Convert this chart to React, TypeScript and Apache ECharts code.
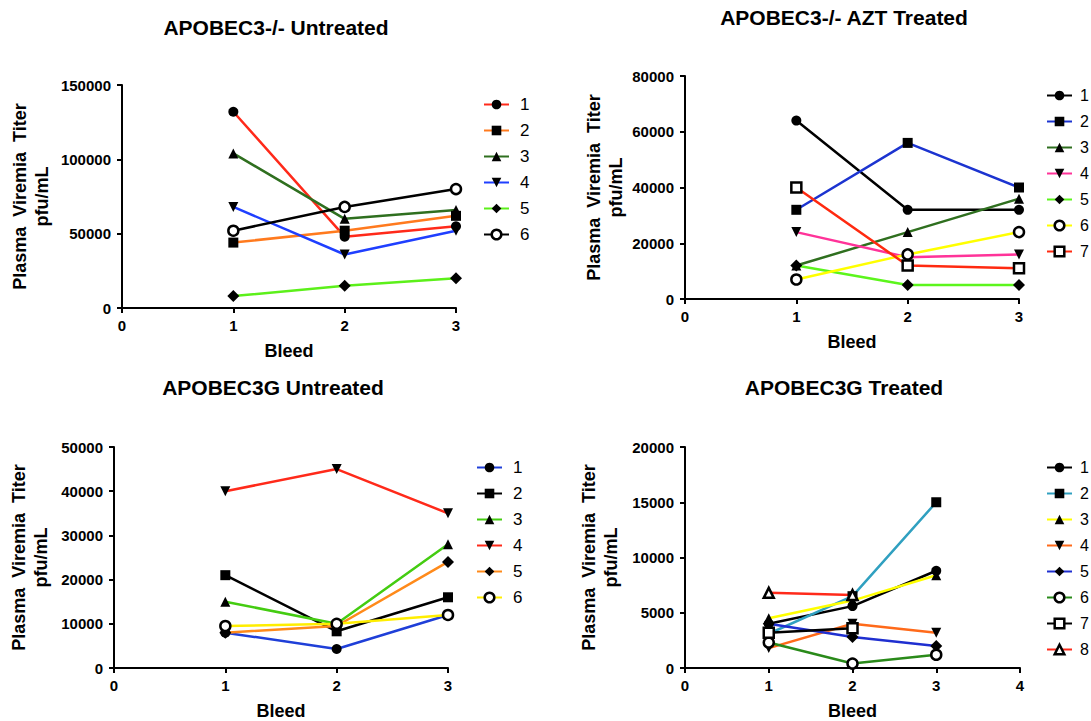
import React, { useEffect, useRef } from "react";
import * as echarts from "echarts";

const bleeds = [1, 2, 3];

// Panel 1: APOBEC3-/- Untreated
const p1Names = ["1", "2", "3", "4", "5", "6"];
const p1Values = [
  [132000, 48000, 55000],
  [44000, 52000, 62000],
  [104000, 60000, 66000],
  [68000, 36000, 52000],
  [8000, 15000, 20000],
  [52000, 68000, 80000],
];
const p1Colors = ["#ff2a1a", "#ff7a1e", "#2f6f1f", "#1f3fff", "#5cf01a", "#000000"];
const p1Symbols = ["circle", "rect", "triangle", "triangleDown", "diamond", "emptyCircle"];

// Panel 2: APOBEC3-/- AZT Treated
const p2Names = ["1", "2", "3", "4", "5", "6", "7"];
const p2Values = [
  [64000, 32000, 32000],
  [32000, 56000, 40000],
  [12000, 24000, 36000],
  [24000, 15000, 16000],
  [12000, 5000, 5000],
  [7000, 16000, 24000],
  [40000, 12000, 11000],
];
const p2Colors = ["#000000", "#1c34d0", "#2f6f1f", "#ff3399", "#5cf51c", "#ffff00", "#ff2a10"];
const p2Symbols = ["circle", "rect", "triangle", "triangleDown", "diamond", "emptyCircle", "emptyRect"];

// Panel 3: APOBEC3G Untreated
const p3Names = ["1", "2", "3", "4", "5", "6"];
const p3Values = [
  [8000, 4300, 12000],
  [21000, 8300, 16000],
  [15000, 10000, 28000],
  [40000, 45000, 35000],
  [8000, 9500, 24000],
  [9500, 10000, 12000],
];
const p3Colors = ["#1f3fd8", "#000000", "#44cc11", "#ff2a1a", "#ff8a1a", "#ffee00"];
const p3Symbols = ["circle", "rect", "triangle", "triangleDown", "diamond", "emptyCircle"];

// Panel 4: APOBEC3G Treated
const p4Names = ["1", "2", "3", "4", "5", "6", "7", "8"];
const p4Values = [
  [4000, 5600, 8800],
  [3100, 6500, 15000],
  [4500, 6100, 8400],
  [1800, 4000, 3200],
  [4000, 2800, 2000],
  [2300, 400, 1200],
  [3200, 3600],
  [6800, 6600],
];
const p4Colors = ["#000000", "#30a0c0", "#ffff00", "#ff6a1a", "#1f2fd0", "#2a8a1a", "#000000", "#ff2a1a"];
const p4Symbols = ["circle", "rect", "triangle", "triangleDown", "diamond", "emptyCircle", "emptyRect", "emptyTriangle"];

const titles = ["APOBEC3-/- Untreated", "APOBEC3-/- AZT Treated", "APOBEC3G Untreated", "APOBEC3G Treated"];
const yMax = [150000, 80000, 50000, 20000];
const yStep = [50000, 20000, 10000, 5000];
const xMax = [3, 3, 3, 4];

const FONT = "Liberation Sans, Arial, sans-serif";

export default function App() {
  const ref = useRef<HTMLDivElement>(null);
  useEffect(() => {
    if (!ref.current) return;
    const chart = echarts.init(ref.current, null, { renderer: "svg" });

    const grids = [
      { left: 122, top: 85, width: 334, height: 223 },
      { left: 685, top: 76, width: 334, height: 223 },
      { left: 114, top: 447, width: 334, height: 223 },
      { left: 685, top: 447, width: 335, height: 223 },
    ];
    const yNameGap = [69, 58, 62, 63];
    const titlePos = [
      { x: 276, y: 17 },
      { x: 844, y: 7 },
      { x: 273, y: 377 },
      { x: 844, y: 377 },
    ];
    const legendPos = [
      { left: 478, top: 91, font: 17 },
      { left: 1041, top: 82, font: 16 },
      { left: 471, top: 454, font: 17 },
      { left: 1041, top: 454, font: 16 },
    ];

    const panels = [
      { names: p1Names, values: p1Values, colors: p1Colors, symbols: p1Symbols },
      { names: p2Names, values: p2Values, colors: p2Colors, symbols: p2Symbols },
      { names: p3Names, values: p3Values, colors: p3Colors, symbols: p3Symbols },
      { names: p4Names, values: p4Values, colors: p4Colors, symbols: p4Symbols },
    ];

    const series: any[] = [];
    panels.forEach((p, pi) => {
      p.names.forEach((n, si) => {
        const sym = p.symbols[si];
        const isDown = sym === "triangleDown";
        const isEmpty = sym.indexOf("empty") === 0;
        const baseSym = isDown ? "triangle" : isEmpty ? sym.replace("empty", "").toLowerCase() : sym;
        series.push({
          type: "line",
          name: `p${pi + 1}-${n}`,
          xAxisIndex: pi,
          yAxisIndex: pi,
          data: p.values[si].map((v, i) => [bleeds[i], v]),
          symbol: baseSym,
          symbolRotate: isDown ? 180 : 0,
          symbolSize: isEmpty ? 10 : sym === "diamond" ? 12 : 10,
          showAllSymbol: true,
          lineStyle: { color: p.colors[si], width: 2.5 },
          itemStyle: isEmpty
            ? { color: "#ffffff", borderColor: "#000000", borderWidth: 2.5 }
            : { color: "#000000", borderColor: "#000000", borderWidth: 0 },
          emphasis: { disabled: true },
        });
      });
    });

    const axisCommon = {
      axisLine: { show: true, onZero: false, lineStyle: { color: "#000", width: 2 } },
      axisTick: { show: true, inside: false, length: 5, lineStyle: { color: "#000", width: 2 } },
      splitLine: { show: false },
      axisLabel: {
        color: "#000",
        fontWeight: "bold",
        fontSize: 15,
        fontFamily: FONT,
        formatter: (v: number) => String(v),
      },
    };

    const option: any = {
      animation: false,
      backgroundColor: "#ffffff",
      title: titles.map((t, i) => ({
        text: t,
        left: titlePos[i].x,
        top: titlePos[i].y,
        padding: 0,
        textAlign: "center",
        textStyle: { fontSize: 21, fontWeight: "bold", color: "#000", fontFamily: FONT },
      })),
      grid: grids.map((g) => ({ ...g, containLabel: false })),
      xAxis: grids.map((_, i) => ({
        ...axisCommon,
        type: "value",
        gridIndex: i,
        min: 0,
        max: xMax[i],
        interval: 1,
        name: "Bleed",
        nameLocation: "middle",
        nameGap: 34,
        nameTextStyle: { fontWeight: "bold", fontSize: 18, color: "#000", fontFamily: FONT },
        axisLabel: { ...axisCommon.axisLabel, margin: 10 },
      })),
      yAxis: grids.map((_, i) => ({
        ...axisCommon,
        type: "value",
        gridIndex: i,
        min: 0,
        max: yMax[i],
        interval: yStep[i],
        name: "Plasma  Viremia  Titer\npfu/mL",
        nameLocation: "middle",
        nameGap: yNameGap[i],
        nameRotate: 90,
        nameTextStyle: { fontWeight: "bold", fontSize: 18, lineHeight: 22, color: "#000", fontFamily: FONT, align: "center" },
        axisLabel: { ...axisCommon.axisLabel, margin: 11 },
      })),
      legend: panels.map((p, pi) => ({
        orient: "vertical",
        left: legendPos[pi].left,
        top: legendPos[pi].top,
        itemWidth: 25,
        itemHeight: 12,
        itemGap: 9,
        selectedMode: false,
        data: p.names.map((n) => `p${pi + 1}-${n}`),
        formatter: (name: string) => name.split("-")[1],
        itemStyle: { borderWidth: "inherit" },
        textStyle: {
          fontSize: legendPos[pi].font,
          lineHeight: 17,
          color: "#000",
          fontFamily: FONT,
          padding: [0, 0, 0, pi % 2 === 1 ? 3 : 6],
        },
      })),
      series,
    };

    chart.setOption(option);
    return () => chart.dispose();
  }, []);

  return (
    <div
      ref={ref}
      style={{ position: "absolute", left: 0, top: 0, width: 1091, height: 721, background: "#fff" }}
    />
  );
}
